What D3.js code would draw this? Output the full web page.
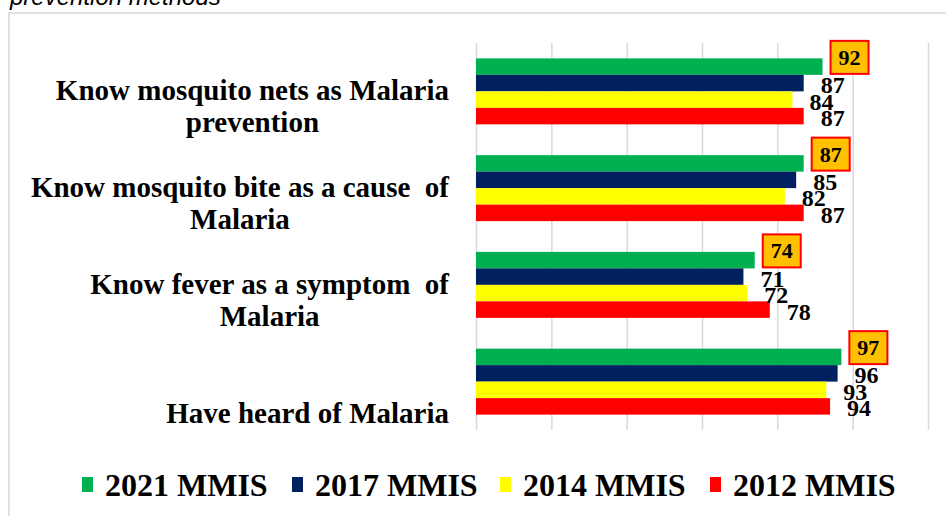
<!DOCTYPE html>
<html>
<head>
<meta charset="utf-8">
<script src="https://cdn.jsdelivr.net/npm/d3@7"></script>
</head>
<body style="margin:0;padding:0;background:#fff">
<svg id="chart" width="946" height="516" style="display:block"></svg>
<script>
// ---- data ----
const categories = [
  "Know mosquito nets as Malaria\nprevention",
  "Know mosquito bite as a cause  of\nMalaria",
  "Know fever as a symptom  of\nMalaria",
  "\nHave heard of Malaria"
];
const seriesNames = ["2021 MMIS", "2017 MMIS", "2014 MMIS", "2012 MMIS"];
const values2021 = [92, 87, 74, 97];
const values2017 = [87, 85, 71, 96];
const values2014 = [84, 82, 72, 93];
const values2012 = [87, 87, 78, 94];
const xTicks = [0, 20, 40, 60, 80, 100, 120];
const titleText = "prevention methods";

// ---- styles ----
const colors = ["#00B050", "#002060", "#FFFF00", "#FF0000"];
const serif = "Liberation Serif";
const allValues = [values2021, values2017, values2014, values2012];

const svg = d3.select("#chart");

// outer frame + cut-off title
svg.append("rect").attr("x", 9).attr("y", 13).attr("width", 980).attr("height", 540)
  .attr("fill", "none").attr("stroke", "#d9d9d9").attr("stroke-width", 1.5);
svg.append("text").attr("x", 10).attr("y", 5)
  .style("font-family", "Liberation Sans").attr("font-style", "italic")
  .attr("font-size", 24).attr("fill", "#000").text(titleText);

// scales
const x = d3.scaleLinear().domain([0, 120]).range([476, 928]);
const y0 = d3.scaleBand().domain(categories).range([43, 430]).paddingInner(0.318).paddingOuter(0.159);
const y1 = d3.scaleBand().domain(seriesNames).range([0, y0.bandwidth()]);

// gridlines via axis
const grid = svg.append("g").attr("transform", "translate(0,430)")
  .call(d3.axisBottom(x).tickValues(xTicks).tickSize(-(430 - 43)).tickFormat(""));
grid.select(".domain").remove();
grid.selectAll(".tick line").attr("stroke", "#d9d9d9").attr("stroke-width", 1.5);

// bars
const rows = categories.map((c, i) => ({ cat: c, vals: seriesNames.map((s, j) => ({ s, j, v: allValues[j][i] })) }));
const groups = svg.selectAll("g.grp").data(rows).join("g").attr("class", "grp")
  .attr("transform", d => `translate(0,${y0(d.cat)})`);
groups.selectAll("rect").data(d => d.vals).join("rect")
  .attr("x", x(0))
  .attr("y", d => y1(d.s))
  .attr("height", y1.bandwidth())
  .attr("width", d => x(d.v) - x(0))
  .attr("fill", d => colors[d.j]);

// data labels: highlighted box for 2021
groups.each(function(d) {
  const g = d3.select(this);
  d.vals.forEach(e => {
    if (e.j === 0) {
      const bx = x(e.v) + 8, by = y1(e.s) + y1.bandwidth() - 1 - 33;
      g.append("rect").attr("x", bx).attr("y", by).attr("width", 38).attr("height", 33)
        .attr("fill", "#FFC000").attr("stroke", "#FF0000").attr("stroke-width", 2);
      g.append("text").attr("x", bx + 19).attr("y", by + 16.5 + 7.5)
        .attr("text-anchor", "middle").style("font-family", serif).attr("font-weight", "bold")
        .attr("font-size", 22).attr("fill", "#000").text(e.v);
    } else {
      g.append("text").attr("x", x(e.v) + 17).attr("y", y1(e.s) + y1.bandwidth() / 2 + 10)
        .style("font-family", serif).attr("font-weight", "bold")
        .attr("font-size", 24).attr("fill", "#000").text(e.v);
    }
  });
});

// category labels
const labelRight = 449;
categories.forEach(c => {
  const lines = c.split("\n");
  const t = svg.append("text").style("font-family", serif).attr("font-weight", "bold")
    .attr("font-size", 29).attr("fill", "#000").attr("text-anchor", "middle");
  const cy = y0(c) + y0.bandwidth() / 2 + 9;
  const tspans = lines.map((ln, k) => t.append("tspan").attr("y", cy + k * 32)
    .text(ln.replace(/  /g, " \u00a0")));
  let maxW = 0;
  tspans.forEach(ts => { maxW = Math.max(maxW, ts.node().getComputedTextLength()); });
  tspans.forEach(ts => ts.attr("x", labelRight - maxW / 2));
});

// legend
const legendX = [82, 292, 500, 710];
const leg = svg.selectAll("g.leg").data(seriesNames).join("g").attr("class", "leg")
  .attr("transform", (d, i) => `translate(${legendX[i]},0)`);
leg.append("rect").attr("x", 0).attr("y", 477).attr("width", 11).attr("height", 15)
  .attr("fill", (d, i) => colors[i]);
leg.append("text").attr("x", 23).attr("y", 496)
  .style("font-family", serif).attr("font-weight", "bold").attr("font-size", 32)
  .attr("fill", "#000").text(d => d);
</script>
</body>
</html>
